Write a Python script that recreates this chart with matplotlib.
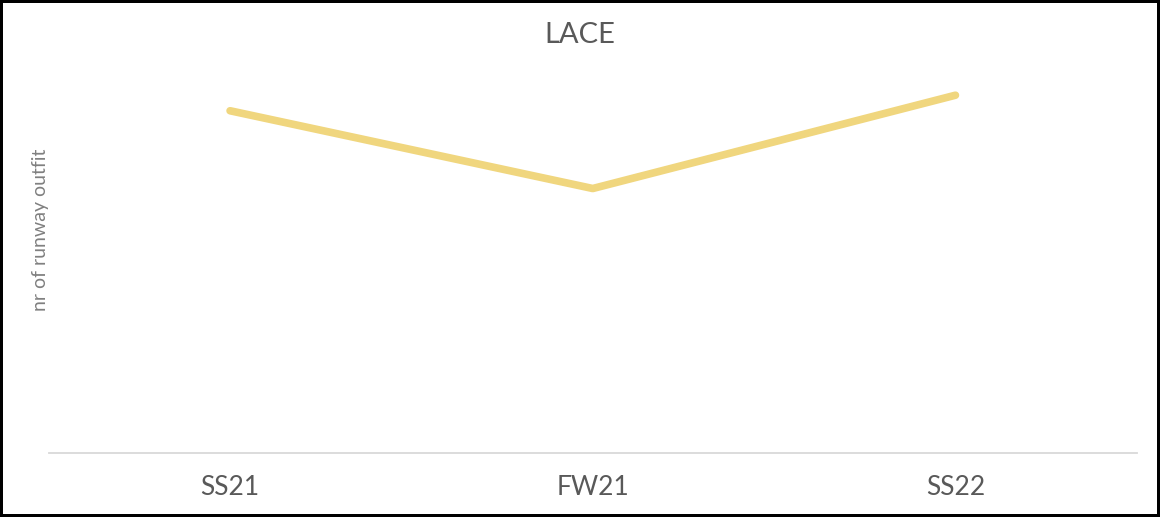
import numpy as np
import matplotlib.pyplot as plt

seasons = ['SS21', 'FW21', 'SS22']
outfits = [22, 17, 23]

plt.rcParams['font.family'] = ['Lato', 'DejaVu Sans']

fig = plt.figure(figsize=(11.6, 5.17), dpi=100)
fig.patch.set_edgecolor('black')
fig.patch.set_linewidth(3)
ax = fig.add_axes([0.042, 0.124, 0.938, 0.752])

x = np.arange(len(seasons))
ax.plot(x, outfits, color='#F0D67E', linewidth=5.5, solid_capstyle='round')

ax.set_xlim(-0.5, 2.5)
ax.set_ylim(0, 25)
ax.set_xticks(x)
ax.set_xticklabels(seasons, fontsize=19, color='#595959')
ax.tick_params(axis='x', length=0, pad=16)
ax.set_yticks([])
for s in ['top', 'right', 'left']:
    ax.spines[s].set_visible(False)
ax.spines['bottom'].set_color('#D9D9D9')
ax.spines['bottom'].set_linewidth(1.3)

ax.set_ylabel('nr of runway outfit', fontsize=14, color='#808080')
ax.yaxis.set_label_coords(0.0, 0.575)
fig.text(0.5, 0.933, 'LACE', ha='center', va='center', fontsize=21, color='#595959')

fig.savefig('out.png', dpi=100, edgecolor=fig.get_edgecolor())
